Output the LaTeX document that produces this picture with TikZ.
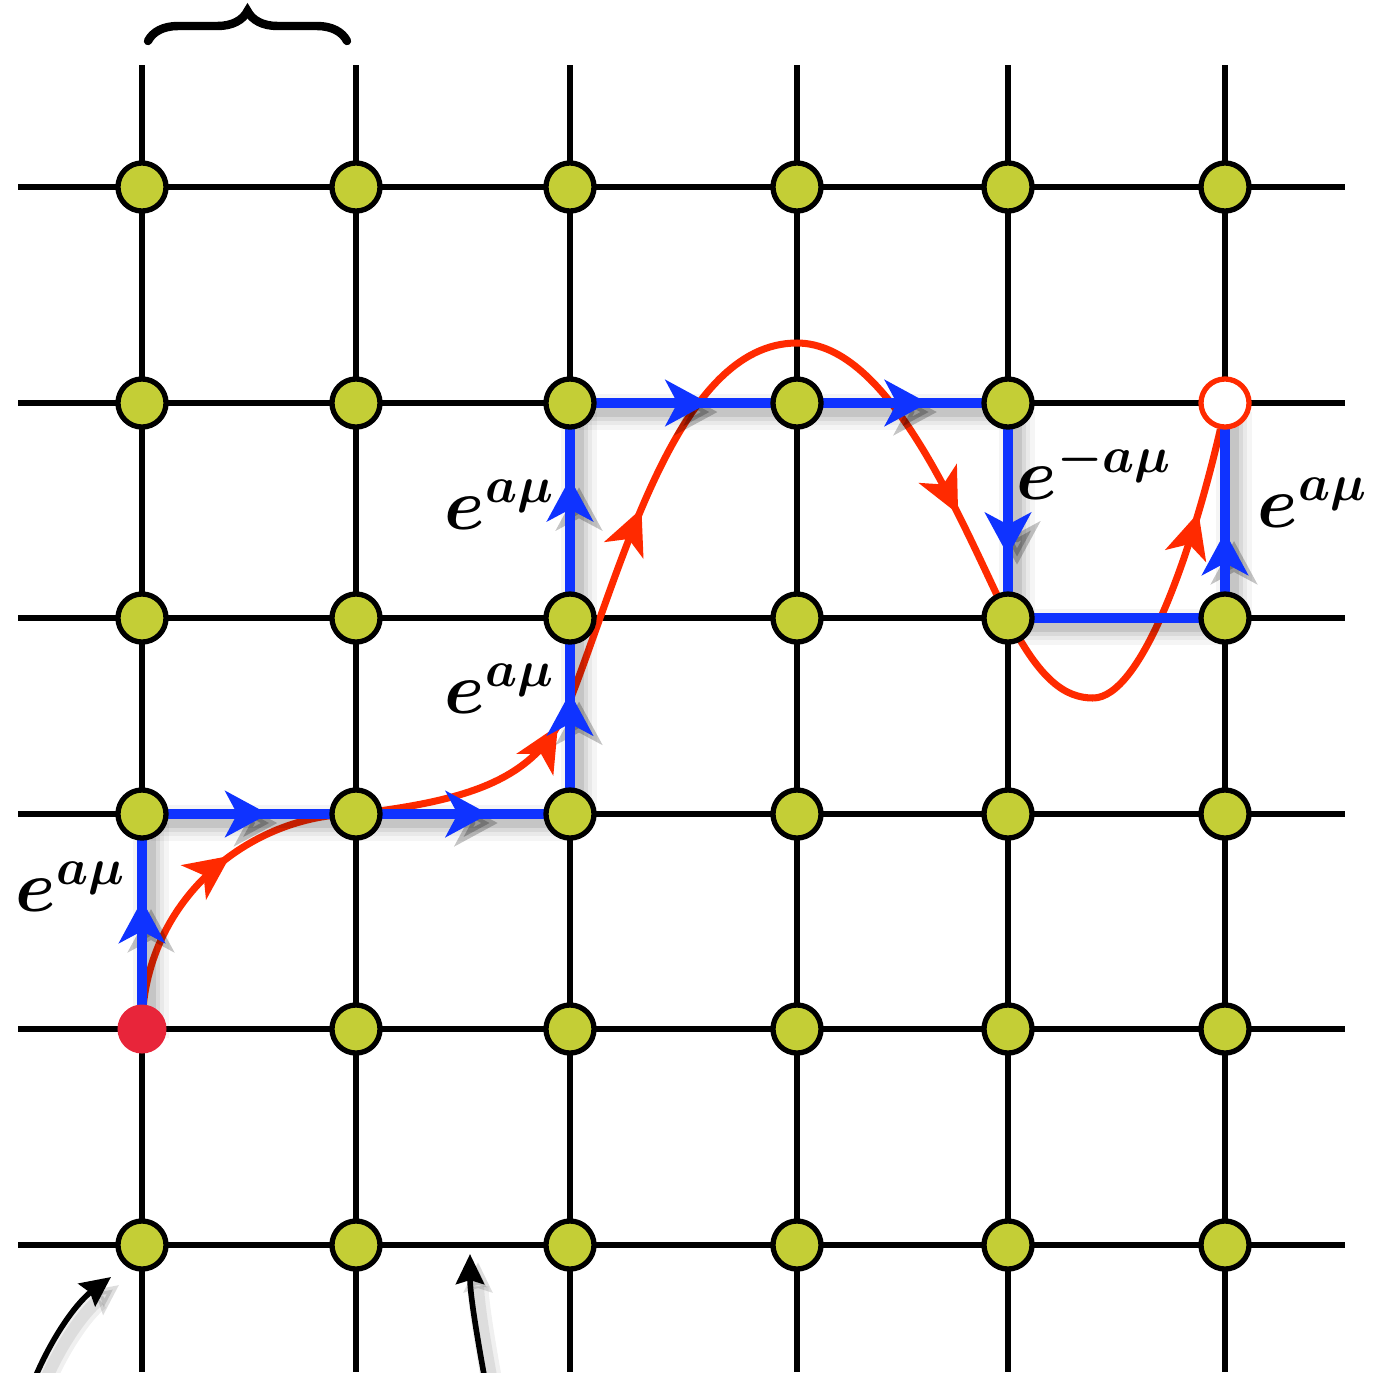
\documentclass[tikz,border=0pt]{standalone}
\usepackage{amsmath}
\usetikzlibrary{arrows.meta,decorations.markings,decorations.pathreplacing}
\definecolor{nodeg}{HTML}{C4CE36}
\definecolor{pathb}{HTML}{0F33FF}
\definecolor{curver}{HTML}{FF2A00}
\definecolor{startr}{HTML}{E8253A}
\pgfdeclarelayer{bg}
\pgfsetlayers{bg,main}
\tikzset{
  gridline/.style={line width=1.6pt, black},
  site/.style={circle, draw=black, line width=1.5pt, fill=nodeg, minimum size=0.48cm, inner sep=0pt},
  startsite/.style={circle, fill=startr, minimum size=0.49cm, inner sep=0pt},
  endsite/.style={circle, draw=curver, line width=1.5pt, fill=white, minimum size=0.48cm, inner sep=0pt},
  bluelink/.style={line width=2.85pt, pathb},
  bshadowA/.style={line width=10pt, black, opacity=0.04},
  bshadowB/.style={line width=7.5pt, black, opacity=0.05},
  bshadowC/.style={line width=5pt, black, opacity=0.07},
  bshadowD/.style={line width=3pt, black, opacity=0.09},
  bmark/.style={decoration={markings, mark=at position #1 with {\arrow{Stealth[length=0.43cm,width=0.46cm,inset=0.12cm]}}}, postaction={decorate}},
  redcurve/.style={line width=2pt, curver},
  rmark/.style={decoration={markings, mark=at position #1 with {\arrow{Stealth[length=0.45cm,width=0.42cm,inset=0.12cm]}}}, postaction={decorate}},
  lab/.style={font=\fontsize{21.5}{24}\selectfont\boldmath, inner sep=0pt, anchor=base west},
  pointer/.style={line width=1.6pt, black, -{Stealth[length=0.3cm,width=0.28cm,inset=0.04cm]}},
}
\newcommand\bluelinks[1]{%
  \draw[#1,bmark=0.60] (n15.center) -- (n14.center);
  \draw[#1,bmark=0.59] (n14.center) -- (n24.center);
  \draw[#1,bmark=0.62] (n24.center) -- (n34.center);
  \draw[#1,bmark=0.62] (n34.center) -- (n33.center);
  \draw[#1,bmark=0.65] (n33.center) -- (n32.center);
  \draw[#1,bmark=0.61] (n32.center) -- (n42.center);
  \draw[#1,bmark=0.62] (n42.center) -- (n52.center);
  \draw[#1,bmark=0.71] (n52.center) -- (n53.center);
  \draw[#1] (n53.center) -- (n63.center);
  \draw[#1,bmark=0.40] (n63.center) -- (n62.center);
}
\begin{document}
\begin{tikzpicture}[x=0.01cm, y=-0.01cm]
\useasboundingbox (0,0) rectangle (1373,1372);
% grid coordinates
\foreach \x [count=\i] in {142,356,570,797,1008,1225} {
  \foreach \y [count=\j] in {187,403,618,814,1029,1245} {
    \coordinate (c\i\j) at (\x,\y);
  }
  \coordinate (top\i) at (\x,65);
  \coordinate (bot\i) at (\x,1372);
}
\foreach \y [count=\j] in {187,403,618,814,1029,1245} {
  \coordinate (lft\j) at (18,\y);
  \coordinate (rgt\j) at (1345,\y);
}
% sites
\foreach \i in {1,...,6} {
  \foreach \j in {1,...,6} {
    \ifnum\i\j=15 \else\ifnum\i\j=62 \else
      \node[site] (n\i\j) at (c\i\j) {};
    \fi\fi
  }
}
\node[startsite] (n15) at (c15) {};
\node[endsite] (n62) at (c62) {};
% curve waypoints
\coordinate (r1) at (570,700);
\coordinate (peak) at (797,343);
\coordinate (trough) at (1093,698);
\begin{pgfonlayer}{bg}
  \foreach \i in {1,...,6} { \draw[gridline] (top\i) -- (bot\i); }
  \foreach \j in {1,...,6} { \draw[gridline] (lft\j) -- (rgt\j); }
  % red curve
  \draw[redcurve, rmark=0.6] (n15.center) .. controls (142,900) and (250,814) .. (n24.center);
  \draw[redcurve, rmark=0.89] (n24.center) .. controls (470,800) and (540,780) .. (r1);
  \draw[redcurve, rmark=0.46] (r1) .. controls (622,568) and (677,343) .. (peak);
  \draw[redcurve, rmark=0.68] (peak) .. controls (890,343) and (960,520) .. (n53.center);
  \draw[redcurve] (n53.center) .. controls (1040,680) and (1065,698) .. (trough);
  \draw[redcurve, rmark=0.72] (trough) .. controls (1140,698) and (1190,560) .. (n62.260);
  % blue path shadow
  \begin{scope}[transform canvas={shift={(0.09cm,-0.09cm)}}]
    \bluelinks{bshadowA}
    \bluelinks{bshadowB}
    \bluelinks{bshadowC}
    \bluelinks{bshadowD}
  \end{scope}
  \bluelinks{bluelink}
\end{pgfonlayer}
% labels
\node[lab] (l1) at (15,911) {$e^{a\mu}$};
\node[lab] (l2) at (444,529) {$e^{a\mu}$};
\node[lab] (l3) at (444,713) {$e^{a\mu}$};
\node[lab] (l4) at (1016,499) {$e^{-a\mu}$};
\node[lab] (l5) at (1257,527) {$e^{a\mu}$};
% brace
\coordinate (bl) at (148,41);
\coordinate (br) at (347,41);
\draw[line width=2.4pt, line cap=round, decorate, decoration={brace, amplitude=0.3cm}] (bl) -- (br);
% bottom pointers
\coordinate (p1s) at (34,1380);
\coordinate (p1e) at (111,1277);
\coordinate (p2s) at (485,1380);
\coordinate (p2e) at (470,1254);
\begin{scope}[transform canvas={shift={(0.08cm,-0.08cm)}}]
  \draw[pointer, black, opacity=0.06, line width=6pt] (p1s) .. controls (55,1330) and (80,1300) .. (p1e);
  \draw[pointer, black, opacity=0.08, line width=3.5pt] (p1s) .. controls (55,1330) and (80,1300) .. (p1e);
  \draw[pointer, black, opacity=0.06, line width=6pt] (p2s) .. controls (474,1320) and (470,1290) .. (p2e);
  \draw[pointer, black, opacity=0.08, line width=3.5pt] (p2s) .. controls (474,1320) and (470,1290) .. (p2e);
\end{scope}
\draw[pointer] (p1s) .. controls (55,1330) and (80,1300) .. (p1e);
\draw[pointer] (p2s) .. controls (474,1320) and (470,1290) .. (p2e);
\end{tikzpicture}
\end{document}
